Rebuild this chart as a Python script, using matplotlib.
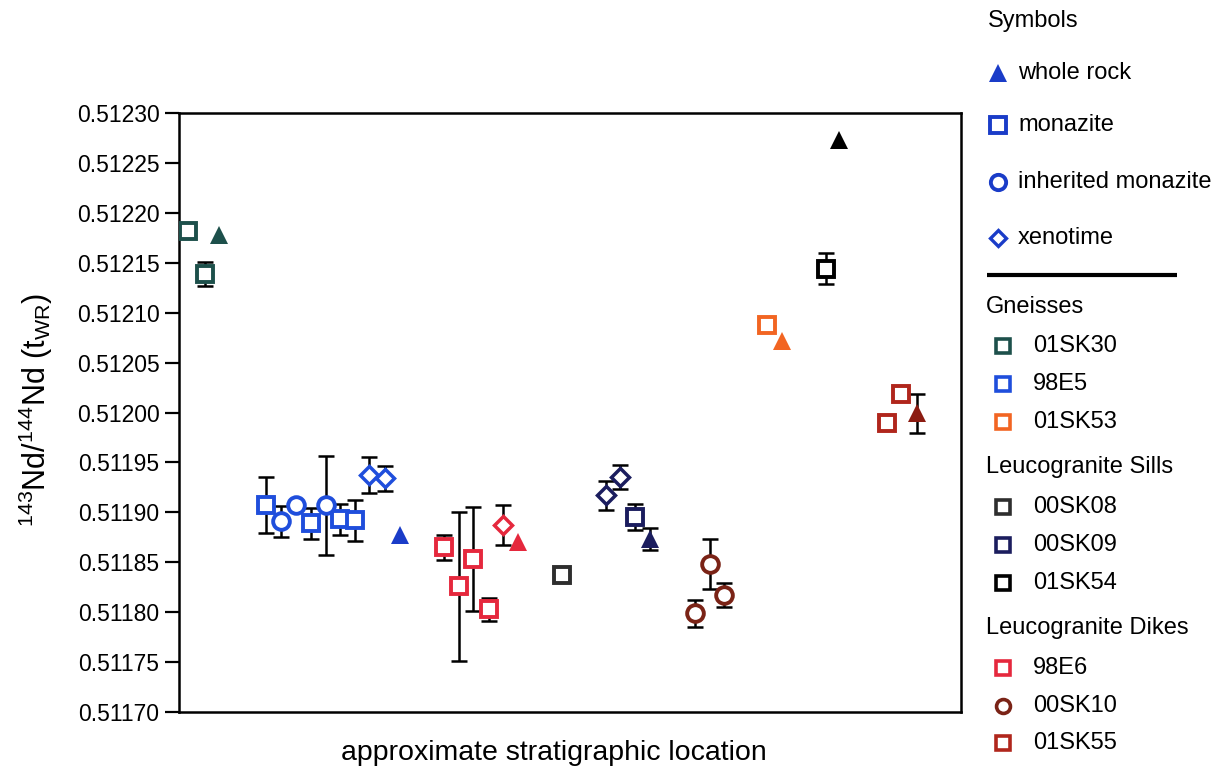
import numpy as np
import matplotlib
matplotlib.use("Agg")
import matplotlib.pyplot as plt

plt.rcParams["font.family"] = ["Liberation Sans", "DejaVu Sans"]
plt.rcParams["mathtext.default"] = "regular"

nan = np.nan

# Relative stratigraphic position (0-100), 143Nd/144Nd at t(WR), 1-sigma error
# Gneisses
sk30_mnz_x = [1.15, 3.3]
sk30_mnz_y = [0.512182, 0.512139]
sk30_mnz_e = [nan, 0.000012]
sk30_wr_x = [5.1]
sk30_wr_y = [0.512178]
sk30_wr_e = [nan]

e5_mnz_x = [11.1, 16.9, 20.6, 22.5]
e5_mnz_y = [0.511907, 0.511889, 0.511893, 0.511892]
e5_mnz_e = [0.000028, 0.0000155, 0.0000155, 0.0000205]
e5_inh_x = [13.0, 15.0, 18.8]
e5_inh_y = [0.511891, 0.511907, 0.511907]
e5_inh_e = [0.0000155, nan, 0.0000495]
e5_xen_x = [24.3, 26.3]
e5_xen_y = [0.511937, 0.511934]
e5_xen_e = [0.000018, 0.0000125]
e5_wr_x = [28.3]
e5_wr_y = [0.511877]
e5_wr_e = [nan]

sk53_mnz_x = [75.2]
sk53_mnz_y = [0.512088]
sk53_mnz_e = [nan]
sk53_wr_x = [77.1]
sk53_wr_y = [0.512072]
sk53_wr_e = [nan]

# Leucogranite sills
sk08_mnz_x = [49.0]
sk08_mnz_y = [0.511837]
sk08_mnz_e = [nan]

sk09_xen_x = [54.6, 56.4]
sk09_xen_y = [0.511917, 0.511935]
sk09_xen_e = [0.0000145, 0.000012]
sk09_mnz_x = [58.3]
sk09_mnz_y = [0.511895]
sk09_mnz_e = [0.000013]
sk09_wr_x = [60.2]
sk09_wr_y = [0.511873]
sk09_wr_e = [0.000011]

sk54_mnz_x = [82.7]
sk54_mnz_y = [0.512144]
sk54_mnz_e = [0.0000155]
sk54_wr_x = [84.4]
sk54_wr_y = [0.512273]
sk54_wr_e = [nan]

# Leucogranite dikes
e6_mnz_x = [33.9, 35.8, 37.6, 39.6]
e6_mnz_y = [0.511865, 0.511826, 0.511853, 0.511803]
e6_mnz_e = [0.0000125, 0.0000745, 0.000052, 0.0000115]
e6_xen_x = [41.4]
e6_xen_y = [0.511887]
e6_xen_e = [0.00002]
e6_wr_x = [43.4]
e6_wr_y = [0.511870]
e6_wr_e = [nan]

sk10_inh_x = [66.0, 67.9, 69.7]
sk10_inh_y = [0.511799, 0.511848, 0.511817]
sk10_inh_e = [0.0000135, 0.000025, 0.000012]

sk55_mnz_x = [90.5, 92.3]
sk55_mnz_y = [0.511989, 0.512019]
sk55_mnz_e = [nan, nan]
sk55_wr_x = [94.4]
sk55_wr_y = [0.511999]
sk55_wr_e = [0.00002]

y_ticks = [0.51170, 0.51175, 0.51180, 0.51185, 0.51190, 0.51195, 0.51200,
           0.51205, 0.51210, 0.51215, 0.51220, 0.51225, 0.51230]

symbol_labels = ["whole rock", "monazite", "inherited monazite", "xenotime"]
groups = ["Gneisses", "Leucogranite Sills", "Leucogranite Dikes"]
group_samples = [["01SK30", "98E5", "01SK53"],
                 ["00SK08", "00SK09", "01SK54"],
                 ["98E6", "00SK10", "01SK55"]]

colors = {
    "01SK30": "#1d504b",
    "98E5": "#1f4edc",
    "01SK53": "#f26522",
    "00SK08": "#2e2e2e",
    "00SK09": "#1b1d5e",
    "01SK54": "#000000",
    "98E6": "#e5283d",
    "00SK10": "#7a2316",
    "01SK55": "#b0261c",
}
wr_colors = dict(colors)
wr_colors["98E5"] = "#1a3cc8"
wr_colors["01SK55"] = "#8c1c12"

# (sample, mineral, x, y, err)
series = [
    ("01SK30", "mnz", sk30_mnz_x, sk30_mnz_y, sk30_mnz_e),
    ("01SK30", "wr", sk30_wr_x, sk30_wr_y, sk30_wr_e),
    ("98E5", "mnz", e5_mnz_x, e5_mnz_y, e5_mnz_e),
    ("98E5", "inh", e5_inh_x, e5_inh_y, e5_inh_e),
    ("98E5", "xen", e5_xen_x, e5_xen_y, e5_xen_e),
    ("98E5", "wr", e5_wr_x, e5_wr_y, e5_wr_e),
    ("01SK53", "mnz", sk53_mnz_x, sk53_mnz_y, sk53_mnz_e),
    ("01SK53", "wr", sk53_wr_x, sk53_wr_y, sk53_wr_e),
    ("00SK08", "mnz", sk08_mnz_x, sk08_mnz_y, sk08_mnz_e),
    ("00SK09", "xen", sk09_xen_x, sk09_xen_y, sk09_xen_e),
    ("00SK09", "mnz", sk09_mnz_x, sk09_mnz_y, sk09_mnz_e),
    ("00SK09", "wr", sk09_wr_x, sk09_wr_y, sk09_wr_e),
    ("01SK54", "mnz", sk54_mnz_x, sk54_mnz_y, sk54_mnz_e),
    ("01SK54", "wr", sk54_wr_x, sk54_wr_y, sk54_wr_e),
    ("98E6", "mnz", e6_mnz_x, e6_mnz_y, e6_mnz_e),
    ("98E6", "xen", e6_xen_x, e6_xen_y, e6_xen_e),
    ("98E6", "wr", e6_wr_x, e6_wr_y, e6_wr_e),
    ("00SK10", "inh", sk10_inh_x, sk10_inh_y, sk10_inh_e),
    ("01SK55", "mnz", sk55_mnz_x, sk55_mnz_y, sk55_mnz_e),
    ("01SK55", "wr", sk55_wr_x, sk55_wr_y, sk55_wr_e),
]

marker_style = {
    "wr": dict(marker="^", ms=13, mew=0),
    "mnz": dict(marker="s", ms=11.5, mew=2.8),
    "inh": dict(marker="o", ms=12, mew=2.8),
    "xen": dict(marker="D", ms=9, mew=2.5),
}

fig = plt.figure(figsize=(12.23, 7.71), dpi=100)
ax = fig.add_axes([179 / 1223, 59 / 771, 782 / 1223, 599 / 771])

for sample, mineral, x, y, e in series:
    ax.errorbar(x, y, yerr=e, fmt="none", ecolor="black", elinewidth=1.8,
                capsize=6, capthick=1.8, zorder=2)
    st = marker_style[mineral]
    if mineral == "wr":
        ax.plot(x, y, linestyle="none", marker=st["marker"], ms=st["ms"],
                mfc=wr_colors[sample], mec=wr_colors[sample], mew=0, zorder=3)
    else:
        ax.plot(x, y, linestyle="none", marker=st["marker"], ms=st["ms"],
                mfc="white", mec=colors[sample], mew=st["mew"], zorder=3)

ax.set_xlim(0, 100)
ax.set_ylim(0.51170, 0.51230)
ax.set_yticks(y_ticks)
ax.set_yticklabels([f"{v:.5f}" for v in y_ticks])
ax.set_xticks([])
ax.tick_params(axis="y", direction="out", length=10, width=1.6,
               labelsize=16.5, pad=4)
for sp in ax.spines.values():
    sp.set_linewidth(1.8)
ax.set_xlabel("approximate stratigraphic location", fontsize=20.5)
ax.xaxis.set_label_coords(0.48, -0.046)
ax.set_ylabel("$^{143}$Nd/$^{144}$Nd (t$_{WR}$)", fontsize=22)
ax.yaxis.set_label_coords(-0.158, 0.505)

# Legend panel in pixel coordinates
lg = fig.add_axes([0, 0, 1, 1], facecolor="none")
lg.set_xlim(0, 1223)
lg.set_ylim(771, 0)
lg.axis("off")

leg_fs = 17
lg.text(988, 21, "Symbols", fontsize=leg_fs, va="center", ha="left")
sym_rows = [73, 125, 182, 238]
sym_markers = [("^", 13, 0), ("s", 11, 2.8), ("o", 11, 2.8), ("D", 8, 2.4)]
for (lab, yy, (mk, ms, mw)) in zip(symbol_labels, sym_rows, sym_markers):
    if mk == "^":
        lg.plot([998], [yy], marker=mk, ms=ms, mfc="#1a3cc8", mec="#1a3cc8",
                mew=0, linestyle="none")
    else:
        lg.plot([998], [yy], marker=mk, ms=ms, mfc="white", mec="#1a3cc8",
                mew=mw, linestyle="none")
    lg.text(1018, yy, lab, fontsize=leg_fs, va="center", ha="left")

lg.plot([987, 1177], [275, 275], color="black", linewidth=3,
        solid_capstyle="butt")

group_rows = [307, 467, 628]
sample_rows = [[346, 384, 422], [507, 545, 583], [668, 706, 743]]
for g, gy, samples, rows in zip(groups, group_rows, group_samples, sample_rows):
    lg.text(986, gy, g, fontsize=leg_fs, va="center", ha="left")
    for s, sy in zip(samples, rows):
        mk = "o" if s == "00SK10" else "s"
        lg.plot([1003], [sy], marker=mk, ms=10, mfc="white", mec=colors[s],
                mew=2.6, linestyle="none")
        lg.text(1033, sy, s, fontsize=leg_fs, va="center", ha="left")

fig.savefig("out.png", dpi=100)
